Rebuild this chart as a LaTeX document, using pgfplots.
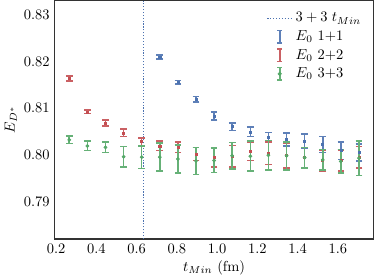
\documentclass[border=0pt]{standalone}
\usepackage{pgfplots}
\usepackage{pgfplotstable}
\pgfplotsset{compat=1.18}
\definecolor{cb}{HTML}{4C72B0}
\definecolor{cr}{HTML}{C44E52}
\definecolor{cg}{HTML}{55A868}
\colorlet{cbl}{cb!90!white}
\colorlet{crl}{cr!90!white}
\colorlet{cgl}{cg!90!white}

\pgfplotstableread{
x y e
0.715 0.8209 0.0004
0.805 0.8155 0.0004
0.895 0.8119 0.0006
0.985 0.8083 0.0008
1.075 0.8060 0.0008
1.165 0.8049 0.0010
1.255 0.8038 0.0010
1.345 0.8033 0.0014
1.435 0.8029 0.0015
1.525 0.8022 0.0017
1.615 0.8009 0.0019
1.705 0.8005 0.0018
}\blueT

\pgfplotstableread{
x y e
0.265 0.8163 0.0005
0.355 0.8092 0.0004
0.445 0.8068 0.0006
0.535 0.8047 0.0008
0.625 0.8028 0.0008
0.715 0.8019 0.0010
0.805 0.8016 0.0011
0.895 0.8002 0.0014
0.985 0.7995 0.0021
1.075 0.7997 0.0023
1.165 0.8008 0.0020
1.255 0.8003 0.0024
1.345 0.7998 0.0026
1.435 0.7994 0.0022
1.525 0.7988 0.0022
1.615 0.7988 0.0022
1.705 0.7995 0.0023
}\redT

\pgfplotstableread{
x y e
0.265 0.8032 0.0008
0.355 0.8019 0.0010
0.445 0.8016 0.0011
0.535 0.7996 0.0022
0.625 0.7995 0.0024
0.715 0.7995 0.0030
0.805 0.7991 0.0030
0.895 0.7987 0.0029
0.985 0.7988 0.0026
1.075 0.7998 0.0028
1.165 0.7997 0.0032
1.255 0.7999 0.0032
1.345 0.7998 0.0030
1.435 0.7994 0.0022
1.525 0.7989 0.0022
1.615 0.7986 0.0025
1.705 0.7993 0.0037
}\greenT

\pgfplotsset{
  lgdot/.style={legend image code/.code={\draw[cb, line width=0.8pt, dash pattern=on 0.8pt off 1.2pt] (0cm,0cm) -- (0.6cm,0cm);}},
  lgblue/.style={legend image code/.code={\draw[cbl, line width=1.1pt] (0.3cm,-0.15cm)--(0.3cm,0.15cm) (0.24cm,-0.15cm)--(0.36cm,-0.15cm) (0.24cm,0.15cm)--(0.36cm,0.15cm);}},
  lgred/.style={legend image code/.code={\draw[crl, line width=1.1pt] (0.3cm,-0.15cm)--(0.3cm,0.15cm) (0.24cm,-0.15cm)--(0.36cm,-0.15cm) (0.24cm,0.15cm)--(0.36cm,0.15cm);}},
  lggreen/.style={legend image code/.code={\draw[cgl, line width=1.1pt] (0.3cm,-0.15cm)--(0.3cm,0.15cm) (0.24cm,-0.15cm)--(0.36cm,-0.15cm) (0.24cm,0.15cm)--(0.36cm,0.15cm); \fill[cg] (0.3cm,0cm) circle (1.2pt);}},
}

\begin{document}
\begin{tikzpicture}
\begin{axis}[
  scale only axis, width=220pt, height=164.6pt,
  xmin=0.193, xmax=1.777, ymin=0.782, ymax=0.833,
  xtick={0.2,0.4,0.6,0.8,1.0,1.2,1.4,1.6},
  ytick={0.79,0.80,0.81,0.82,0.83},
  yticklabel style={/pgf/number format/.cd, fixed, fixed zerofill, precision=2},
  xticklabel style={/pgf/number format/.cd, fixed, fixed zerofill, precision=1},
  major tick length=0pt,
  axis line style={black!80, line width=0.8pt},
  xlabel={$t_{Min}$ (fm)}, ylabel={$E_{D^*}$},
  xlabel style={yshift=2pt}, ylabel style={yshift=-2pt},
  legend style={at={(0.985,0.975)}, anchor=north east, draw=none, fill=none,
    row sep=0.5pt, cells={anchor=west}},
  legend cell align=left,
]
\addplot[draw=cb, line width=0.8pt, dash pattern=on 0.8pt off 1.2pt, forget plot] coordinates {(0.635,0.782) (0.635,0.833)};

\addplot[color=cb, only marks, forget plot, mark=square*, mark size=0.7pt,
  error bars/.cd, y dir=both, y explicit,
  error bar style={draw=cbl, line width=1.1pt},
  error mark options={draw=cbl, rotate=90, mark size=2.3pt, line width=1.1pt}]
  table[x=x, y=y, y error=e] {\blueT};
\addplot[color=cr, only marks, forget plot, mark=square*, mark size=0.7pt,
  error bars/.cd, y dir=both, y explicit,
  error bar style={draw=crl, line width=1.1pt},
  error mark options={draw=crl, rotate=90, mark size=2.3pt, line width=1.1pt}]
  table[x=x, y=y, y error=e] {\redT};
\addplot[color=cg, only marks, forget plot, mark=*, mark size=1.1pt,
  error bars/.cd, y dir=both, y explicit,
  error bar style={draw=cgl, line width=1.1pt},
  error mark options={draw=cgl, rotate=90, mark size=2.3pt, line width=1.1pt}]
  table[x=x, y=y, y error=e] {\greenT};

\addlegendimage{lgdot}
\addlegendentry{$3+3\;t_{Min}$}
\addlegendimage{lgblue}
\addlegendentry{$E_0\ 1{+}1$}
\addlegendimage{lgred}
\addlegendentry{$E_0\ 2{+}2$}
\addlegendimage{lggreen}
\addlegendentry{$E_0\ 3{+}3$}
\end{axis}
\end{tikzpicture}
\end{document}
